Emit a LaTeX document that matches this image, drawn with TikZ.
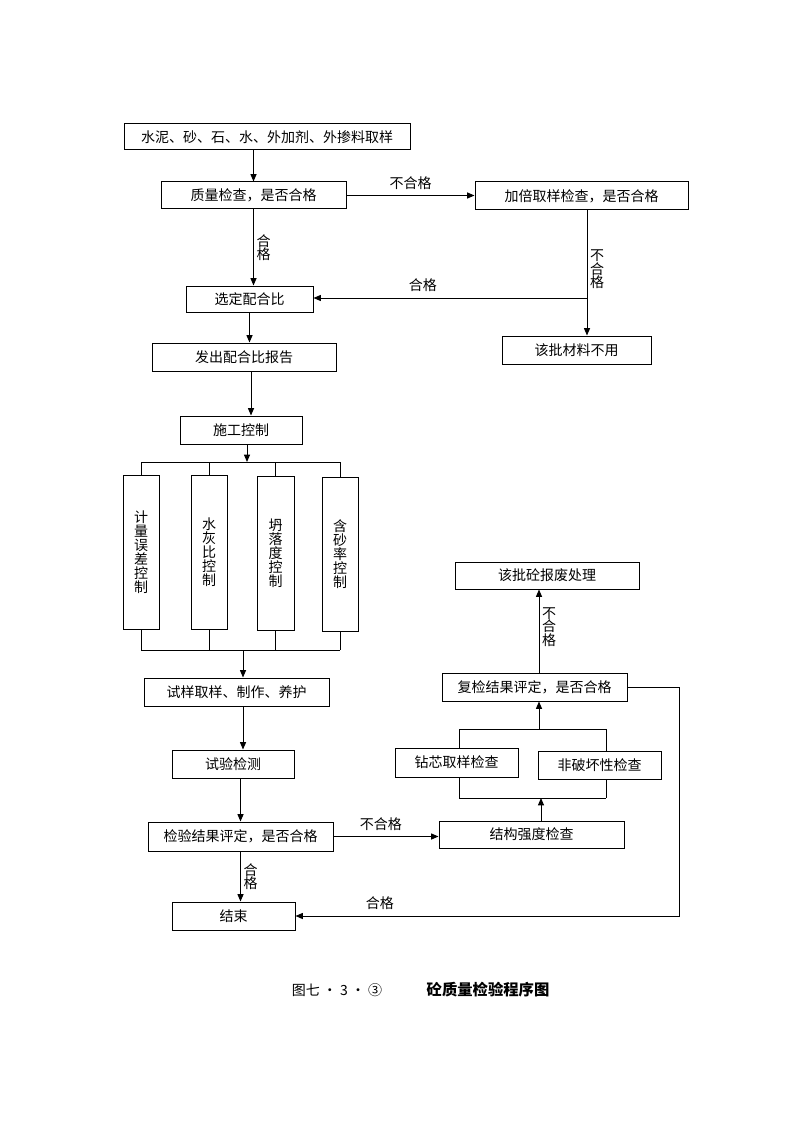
\documentclass[tikz,border=0pt]{standalone}
\usepackage{fontspec}
\setmainfont{Noto Sans CJK SC}
\usetikzlibrary{arrows.meta,calc}
\begin{document}
\begin{tikzpicture}[x=0.75pt,y=-0.75pt,line width=0.75pt,
  every node/.style={font=\fontsize{10.5}{10.5}\selectfont},
  box/.style={draw,line width=0.75pt,inner sep=0pt,align=center},
  wh/.style 2 args={minimum width=#1*0.75pt,minimum height=#2*0.75pt},
  vlab/.style={align=center,inner sep=2pt,font=\fontsize{10.5}{10}\selectfont},
  arr/.style={-{Triangle[length=5.5pt,width=4.5pt]}}]
\fill[white] (0,0) rectangle (794,1123);
\useasboundingbox (0,0) rectangle (794,1123);
% boxes
\node[box,wh={286}{26}] (b1) at (267,137) {水泥、砂、石、水、外加剂、外掺料取样};
\node[box,wh={185}{27}] (b2) at (253.5,195.5) {质量检查，是否合格};
\node[box,wh={213}{28}] (b3) at (581.5,196) {加倍取样检查，是否合格};
\node[box,wh={127}{26}] (b4) at (249.5,299) {选定配合比};
\node[box,wh={149}{28}] (b5) at (576.5,350) {该批材料不用};
\node[box,wh={184}{28}] (b6) at (244,357) {发出配合比报告};
\node[box,wh={122}{28}] (b7) at (241,430) {施工控制};
\node[box,wh={36}{154}] (t1) at (141,552) {计\\量\\误\\差\\控\\制};
\node[box,wh={36}{154}] (t2) at (209,552) {水\\灰\\比\\控\\制};
\node[box,wh={37}{154}] (t3) at (275.5,553) {坍\\落\\度\\控\\制};
\node[box,wh={36}{154}] (t4) at (340,554) {含\\砂\\率\\控\\制};
\node[box,wh={185}{28}] (b8) at (236.5,692) {试样取样、制作、养护};
\node[box,wh={122}{28}] (b9) at (233,764) {试验检测};
\node[box,wh={185}{29}] (b10) at (240.5,836.5) {检验结果评定，是否合格};
\node[box,wh={123}{28}] (b11) at (233.5,916) {结束};
\node[box,wh={185}{27}] (b12) at (531.5,834.5) {结构强度检查};
\node[box,wh={123}{29}] (b13) at (456.5,762.5) {钻芯取样检查};
\node[box,wh={123}{28}] (b14) at (599.5,765) {非破坏性检查};
\node[box,wh={185}{28}] (b15) at (534.5,687) {复检结果评定，是否合格};
\node[box,wh={184}{27}] (b16) at (547,575.5) {该批砼报废处理};
% junction coordinates
\coordinate (j1) at (587,298);
\coordinate (bus1) at (247,462);
\coordinate (bus2) at (243,650);
\coordinate (l3) at (459,798);
\coordinate (r3) at (606,798);
\coordinate (m3) at (541,798);
\coordinate (l4) at (459,729);
\coordinate (r4) at (606,729);
\coordinate (m4) at (539,729);
\coordinate (k) at (679,687);
% upper connectors
\draw[arr] (b1.south -| b2.north) -- (b2.north);
\draw[arr] (b2.east) -- (b2.east -| b3.west) node[midway,above=1pt]{不合格};
\draw[arr] (b2.south) -- (b2.south |- b4.north) node[midway,right,vlab]{合\\格};
\draw[arr] (b3.south -| j1) -- (b5.north -| j1) node[pos=0.47,right,vlab]{不\\合\\格};
\draw[arr] (j1) -- (b4.east |- j1) node[pos=0.6,above=1pt]{合格};
\draw[arr] (b4.south) -- (b4.south |- b6.north);
\draw[arr] ($(b4.south |- b6.south)+(1.5,0)$) -- ($(b4.south |- b7.north)+(1.5,0)$);
\draw[arr] (b7.south -| bus1) -- (bus1);
\draw (t1.north |- bus1) -- (t4.north |- bus1);
\foreach \t in {t1,t2,t3,t4} \draw (\t.north |- bus1) -- (\t.north);
\draw (t1.south |- bus2) -- (t4.south |- bus2);
\foreach \t in {t1,t2,t3,t4} \draw (\t.south) -- (\t.south |- bus2);
\draw[arr] (bus2) -- (b8.north -| bus2);
\draw[arr] (b8.south -| bus2) -- (b9.north -| bus2);
\draw[arr] (b9.south -| b10.south) -- (b10.south |- b9.south) -- (b10.north);
\draw[arr] (b10.south) -- (b10.south |- b11.north) node[midway,right,vlab]{合\\格};
\draw[arr] (b10.east) -- (b10.east -| b12.west) node[pos=0.45,above=1pt]{不合格};
% right part
\draw[arr] (b12.north -| m3) -- (m3);
\draw (l3) -- (r3);
\draw (b13.south -| l3) -- (l3);
\draw (b14.south -| r3) -- (r3);
\draw (l4) -- (r4);
\draw (l4) -- (b13.north -| l4);
\draw (r4) -- (b14.north -| r4);
\draw[arr] (m4) -- (b15.south -| m4);
\draw[arr] (b15.north -| m4) -- (b16.south -| m4) node[pos=0.55,right,vlab]{不\\合\\格};
\draw[arr] (b15.east |- k) -- (k) -- (k |- b11.east) -- (b11.east) node[pos=0.78,above=1pt]{合格};
% caption
\node (cap1) at (337,990) {图七 · 3 • ③};
\node[font=\fontsize{11.5}{11.5}\selectfont\bfseries] (cap2) at (488,990) {砼质量检验程序图};
\end{tikzpicture}
\end{document}
